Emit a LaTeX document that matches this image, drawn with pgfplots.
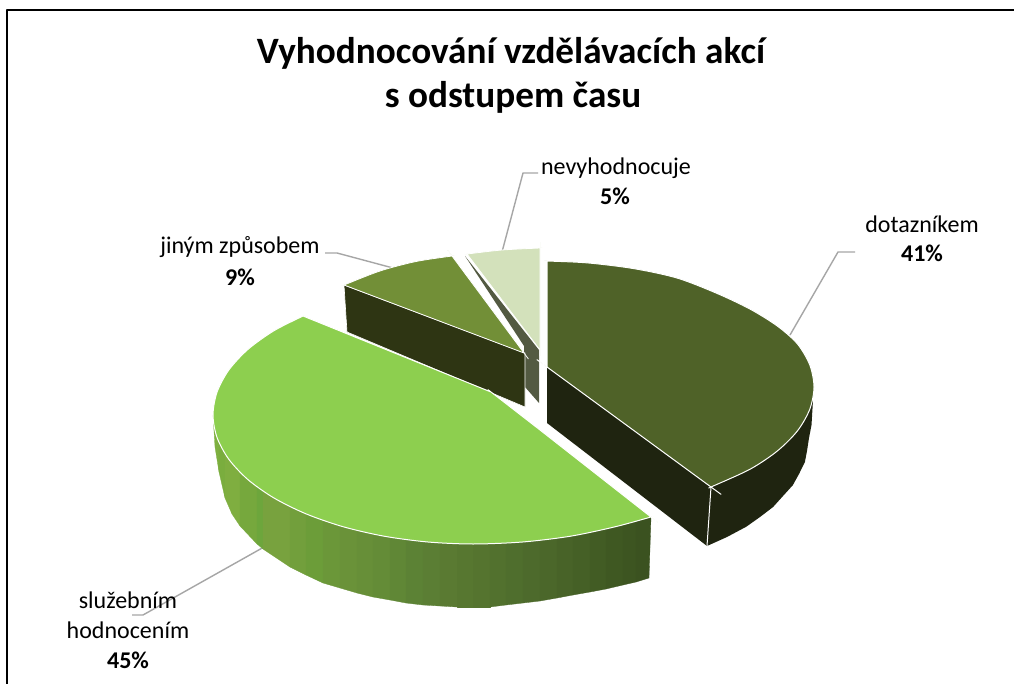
\documentclass[border=0pt]{standalone}
\usepackage{pgfplots}
\pgfplotsset{compat=1.18}
\usepackage{fontspec}
\setmainfont{Carlito}
\definecolor{dkTop}{HTML}{4F6228}
\definecolor{dkWall}{HTML}{1F2410}
\definecolor{midTop}{HTML}{728F37}
\definecolor{midWall}{HTML}{2E3513}
\definecolor{palTop}{HTML}{D3E1BB}
\definecolor{palWall}{HTML}{535A42}
\definecolor{ltTop}{HTML}{8DCF4F}
\definecolor{lead}{HTML}{A6A6A6}
\definecolor{sA}{HTML}{7EB040}\definecolor{sB}{HTML}{7AAD3E}\definecolor{sC}{HTML}{7FAE40}
\definecolor{sD}{HTML}{76A83D}\definecolor{sE}{HTML}{6DA63C}\definecolor{sF}{HTML}{78A23E}
\definecolor{sG}{HTML}{6C9D39}\definecolor{sH}{HTML}{6A9239}\definecolor{sI}{HTML}{648C37}
\definecolor{sJ}{HTML}{5C8235}\definecolor{sK}{HTML}{5A7A32}\definecolor{sL}{HTML}{55742F}
\definecolor{sM}{HTML}{4F6E2D}\definecolor{sN}{HTML}{4B672A}\definecolor{sO}{HTML}{456026}
\definecolor{sP}{HTML}{3F5822}\definecolor{sQ}{HTML}{3B5220}
\newcommand\strip[2]{\addplot[draw=#1,fill=#1,line width=0.3pt] coordinates {#2} --cycle;}
\newcommand\lab[4]{\node[anchor=center,inner sep=0pt] at (axis cs:#1,#2) {\fontsize{#3}{#3}\selectfont #4};}
\begin{document}
\begin{tikzpicture}[line join=round]
\begin{axis}[scale only axis,width=1014pt,height=684pt,xmin=0,xmax=1014,ymin=0,ymax=684,y dir=reverse,ticks=none,axis line style={draw=none},clip=true]
\addplot[fill=white,draw=none] coordinates {(0,0)(1014,0)(1014,684)(0,684)} --cycle;
% frame
\addplot[black,line width=2pt] coordinates {(6.5,684)(6.5,10)(1014,10)};
% leader lines
\addplot[lead,line width=1.4pt] coordinates {(502,252)(523,173)(538,173)};
\addplot[lead,line width=1.4pt] coordinates {(790,335)(838,252)(855,252)};
\addplot[lead,line width=1.4pt] coordinates {(393,268)(337,253)(325,253)};
\addplot[lead,line width=1.4pt] coordinates {(264,547)(143,615)(132,615)};
% pale slice
\addplot[fill=palWall,draw=none] coordinates {(465,256)(539,350)(539,403)(525,387)(524,346)} --cycle;
\addplot[fill=palTop,draw=white,line width=0.8pt,smooth] coordinates {(467,254)(467,254)(467,254)(502,250)(540,248)(540,248)(540,248)(540,350)(540,350)(540,350)} --cycle;
% middle slice
\addplot[fill=midWall,draw=white,line width=0.6pt] coordinates {(344,285)(525,353)(525,407)(347,332)} --cycle;
\addplot[fill=midTop,draw=white,line width=0.8pt,smooth] coordinates {(344,285)(344,285)(344,285)(380,271)(416,261.5)(452,256)(452,256)(452,256)(524,353)(524,353)(524,353)} --cycle;
% dark slice
\addplot[fill=dkWall,draw=none] coordinates {(547,367)(711,487)(707,546)(547,423)} --cycle;
\addplot[fill=dkWall,draw=none] coordinates {(711,487)(813,400)(811.5,425)(809,438)(807,451)(804.9,462)(799,474)(792.8,485.2)(783,496)(773.1,507)(760,517)(746.3,526.7)(727,537)(707,546)} --cycle;
\addplot[white,line width=1pt] coordinates {(711,487)(707,546)};
\addplot[fill=dkTop,draw=white,line width=1pt,smooth] coordinates {(547,261)(547,261)(547,261)(587.6,262.9)(633.7,268.6)(677,278)(716.1,293)(749.9,309)(777.3,326)(797.5,344)(809.8,365)(814,387)(809.8,409.2)(797.5,430.8)(777.3,451)(749.9,469.3)(711,487)(711,487)(711,487)(547,367)(547,367)(547,367)} --cycle;
% light-green wall strips
\strip{sA}{(213,415)(219,441)(219,472)(215,447)}
\strip{sB}{(219,441)(225,452)(225,498)(219,472)}
\strip{sC}{(225,452)(232,462)(232,514)(225,498)}
\strip{sC}{(232,462)(240,471)(240,526)(232,514)}
\strip{sD}{(240,471)(257,486)(257,544)(240,526)}
\strip{sE}{(257,486)(263,490)(263,549)(257,544)}
\strip{sF}{(263,490)(290,505)(290,567)(263,549)}
\strip{sF!50!sG}{(290,505)(306,513)(306,575)(290,567)}
\strip{sG}{(306,513)(323,520)(323,583)(306,575)}
\strip{sG!50!sH}{(323,520)(340,525)(340,588)(323,583)}
\strip{sH}{(340,525)(357,529)(357,593)(340,588)}
\strip{sH!50!sI}{(357,529)(373,533)(373,597)(357,593)}
\strip{sI}{(373,533)(390,536)(390,600)(373,597)}
\strip{sI!50!sJ}{(390,536)(406,539)(406,603)(390,600)}
\strip{sJ}{(406,539)(423,541)(423,605)(406,603)}
\strip{sJ!50!sK}{(423,541)(440,542)(440,606)(423,605)}
\strip{sK}{(440,542)(457,543)(457,607)(440,606)}
\strip{sK!50!sL}{(457,543)(473,543)(473,607)(457,607)}
\strip{sL}{(473,543)(490,543)(490,607)(473,607)}
\strip{sL!50!sM}{(490,543)(506,542)(506,605)(490,607)}
\strip{sM}{(506,542)(523,541)(523,603)(506,605)}
\strip{sM!50!sN}{(523,541)(540,539)(540,601)(523,603)}
\strip{sN}{(540,539)(557,537)(557,598)(540,601)}
\strip{sN!50!sO}{(557,537)(573,534)(573,595)(557,598)}
\strip{sO}{(573,534)(590,531)(590,592)(573,595)}
\strip{sO!50!sP}{(590,531)(606,528)(606,589)(590,592)}
\strip{sP}{(606,528)(623,524)(623,585)(606,589)}
\strip{sP!50!sQ}{(623,524)(636,520)(636,582)(623,585)}
\strip{sQ}{(636,520)(651,517)(649,578)(636,582)}
% light-green top
\addplot[fill=ltTop,draw=white,line width=1pt,smooth] coordinates {(303,316)(303,316)(303,316)(273.8,330.8)(247.8,349.5)(228.7,370.2)(217,392.3)(213,415)(217,437.4)(228.7,459.1)(247.8,479.5)(273.8,497.9)(305.9,513.8)(343,526.7)(384.1,536.2)(427.9,542)(473,544)(522.5,542)(570.5,536.2)(615.5,526.7)(651,517)(651,517)(651,517)(540,430)(540,430)(540,430)(491,392)(491,392)(491,392)} --cycle;
% text
\lab{512}{53}{37.2}{\textbf{Vyhodnocování vzdělávacích akcí}}
\lab{513}{97}{37.2}{\textbf{s odstupem času}}
\lab{616}{168}{24}{nevyhodnocuje}
\lab{615}{196}{24}{\textbf{5\%}}
\lab{922}{224}{24}{dotazníkem}
\lab{922}{253}{24}{\textbf{41\%}}
\lab{240}{247}{24}{jiným způsobem}
\lab{240}{277}{24}{\textbf{9\%}}
\lab{128}{600}{24}{služebním}
\lab{128}{630}{24}{hodnocením}
\lab{128}{660}{24}{\textbf{45\%}}
\end{axis}
\end{tikzpicture}
\end{document}
